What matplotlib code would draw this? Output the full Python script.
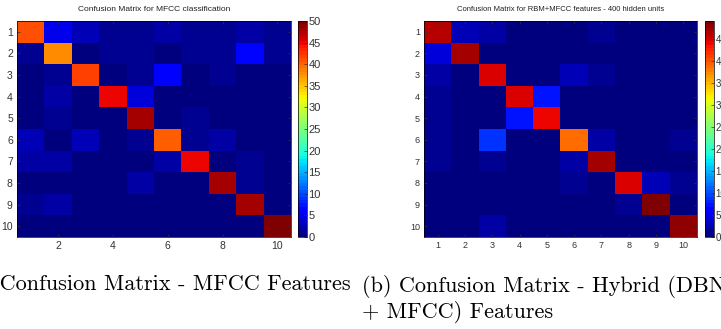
import numpy as np
import matplotlib
matplotlib.use("Agg")
import matplotlib.pyplot as plt

# 클래스 라벨 (1..10)
classes = list(range(1, 11))

# MFCC only 혼동 행렬 (그림에서 색으로 추정)
cm_mfcc = [
    [41, 5, 3, 1, 1, 2, 1, 1, 2, 1],
    [1, 38, 0, 1, 1, 0, 1, 1, 7, 1],
    [0, 1, 42, 0, 1, 6, 0, 1, 0, 0],
    [0, 2, 0, 45, 4, 0, 0, 0, 0, 0],
    [0, 1, 0, 0, 48, 0, 1, 0, 0, 0],
    [3, 0, 3, 0, 1, 40, 1, 2, 0, 0],
    [2, 2, 0, 0, 0, 2, 45, 0, 1, 0],
    [0, 0, 0, 0, 2, 0, 0, 48, 1, 0],
    [1, 2, 0, 0, 0, 0, 0, 0, 48, 0],
    [0, 0, 0, 0, 0, 0, 0, 0, 0, 50],
]

# RBM + MFCC 혼동 행렬
cm_rbm = [
    [46, 3, 2, 0, 0, 0, 1, 0, 0, 0],
    [4, 47, 0, 0, 0, 0, 0, 0, 0, 0],
    [2, 0, 45, 0, 0, 3, 1, 0, 0, 0],
    [1, 0, 0, 45, 7, 0, 0, 0, 0, 0],
    [1, 0, 0, 7, 44, 0, 0, 0, 0, 0],
    [1, 0, 9, 0, 0, 39, 2, 0, 0, 1],
    [1, 0, 1, 0, 0, 2, 47, 0, 0, 0],
    [0, 0, 0, 0, 0, 1, 0, 45, 3, 1],
    [0, 0, 0, 0, 0, 0, 0, 1, 49, 0],
    [0, 0, 2, 0, 0, 0, 0, 0, 0, 48],
]

titles = ["Confusion Matrix for MFCC classification",
          "Confusion Matrix for RBM+MFCC features - 400 hidden units"]
captions = ["(a) Confusion Matrix - MFCC Features",
            "(b) Confusion Matrix - Hybrid (DBN\n+ MFCC) Features"]

W, H = 721, 329
fig = plt.figure(figsize=(W / 100, H / 100), dpi=100)
plt.rcParams['font.family'] = ['Liberation Sans', 'DejaVu Sans']

def box(x0, y0, x1, y1):
    return [x0 / W, 1 - y1 / H, (x1 - x0) / W, (y1 - y0) / H]

cmap = plt.get_cmap('jet', 64)

panels = [
    (cm_mfcc, box(17, 21, 291, 237), box(298, 21, 307, 237), [2, 4, 6, 8, 10], 7.5, 6.0),
    (cm_rbm, box(424, 21, 697, 237), box(705, 21, 714, 237), classes, 6.5, 5.5),
]

for i, (cm, ax_box, cb_box, xt, fs, tfs) in enumerate(panels):
    data = np.array(cm)
    ax = fig.add_axes(ax_box)
    im = ax.imshow(data, cmap=cmap, vmin=data.min(), vmax=data.max(),
                   aspect='auto', interpolation='nearest',
                   extent=(0.5, 10.5, 10.5, 0.5))
    ax.set_xticks(xt)
    ax.set_yticks(classes)
    ax.tick_params(direction='in', length=2.5, width=0.5, labelsize=fs,
                   top=True, right=True, pad=3, colors='#333333')
    ax.set_title(titles[i], fontsize=tfs, pad=7, color='#222222')
    for s in ax.spines.values():
        s.set_linewidth(0.5)

    cax = fig.add_axes(cb_box)
    cb = fig.colorbar(im, cax=cax)
    cb.set_ticks(np.arange(0, data.max() + 1, 5))
    cax.tick_params(direction='in', length=2, width=0.5, labelsize=fs + 0.5,
                    pad=1, colors='#333333')
    cb.outline.set_linewidth(0.5)

# 캡션 (논문 서식)
fig.text(-36 / W, 1 - 285 / H, captions[0], fontsize=16, family='cmr10',
         va='center', ha='left')
fig.text(362 / W, 1 - 299 / H, captions[1], fontsize=16, family='cmr10',
         va='center', ha='left', linespacing=1.15)

fig.savefig('out.png', dpi=100)
